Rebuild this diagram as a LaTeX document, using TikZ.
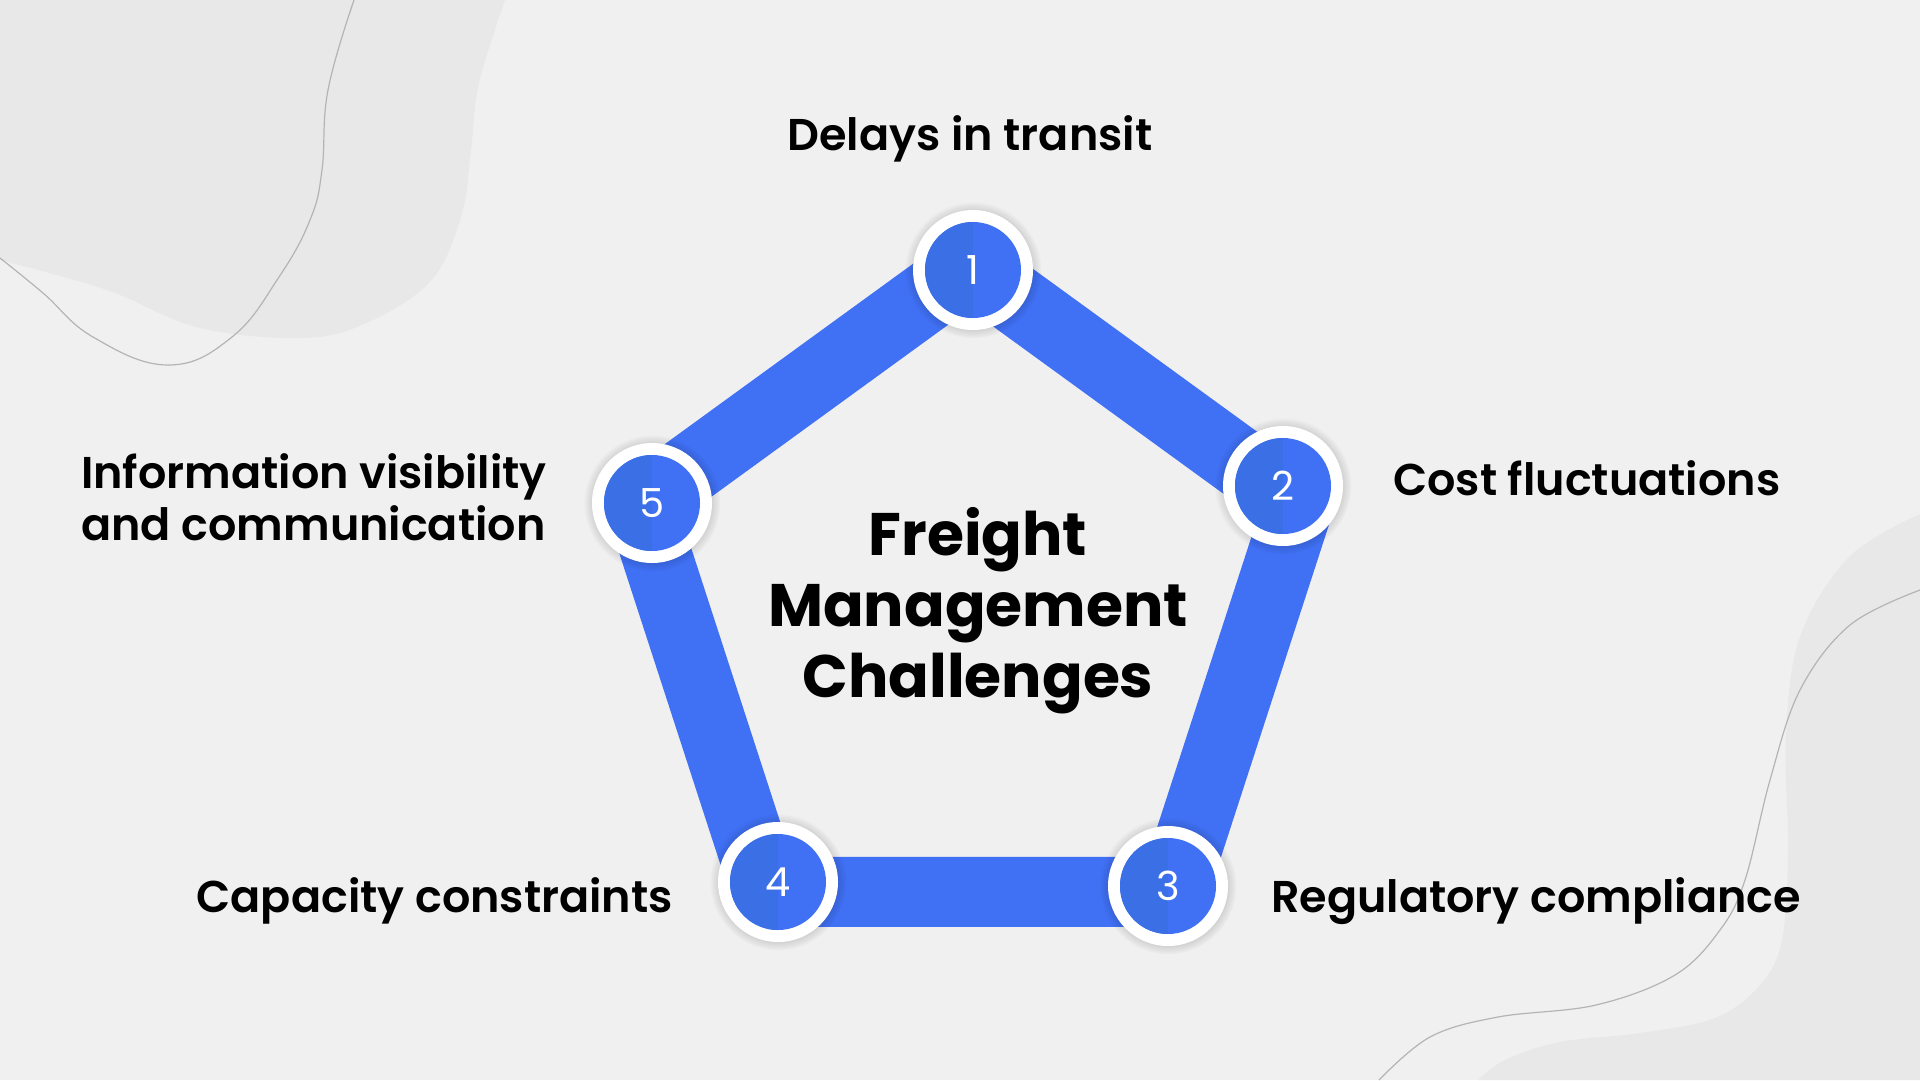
\documentclass[tikz,border=0pt]{standalone}
\usepackage{fontspec}
\setmainfont{Poppins}
\newfontfamily\labelfont{Poppins SemiBold}
\newfontfamily\titlefont{Poppins Bold}
\usetikzlibrary{shapes.geometric, shadows, fadings, backgrounds, positioning}
\definecolor{canvas}{HTML}{F0F0F0}
\definecolor{blobgray}{HTML}{E8E8E8}
\definecolor{wavegray}{HTML}{B4B4B4}
\definecolor{primary}{HTML}{4070F4}
\definecolor{primarydark}{HTML}{3A6FE6}
\tikzset{
  blob/.style={fill=blobgray},
  wave/.style={draw=wavegray, line width=1.2pt},
  band/.style={regular polygon, regular polygon sides=5, draw=primary,
               line width=70pt, line join=round, minimum size=692pt,
               inner sep=0pt},
  ring/.style={circle, fill=white, minimum size=120pt, inner sep=0pt,
               general shadow={shadow scale=1.14, fill=black, opacity=0.14,
                               path fading=circle with fuzzy edge 15 percent}},
  badge/.style={circle, fill=primary, minimum size=96pt, inner sep=0pt,
                text=white, font=\fontsize{40}{40}\selectfont,
                path picture={\fill[primarydark]
                  (path picture bounding box.north west) rectangle
                  (path picture bounding box.south);}},
  challenge/.style={font=\labelfont\fontsize{44.5}{52}\selectfont,
                    text=black, inner sep=0pt},
  hub/.style={font=\titlefont\fontsize{60}{71}\selectfont,
              align=center, inner sep=0pt},
}

\begin{document}
\begin{tikzpicture}[x=1pt, y=-1pt]

  \useasboundingbox (0,0) rectangle (1920,1080);

  %% ── CANVAS (background layer) ────────────────────────────────────────────
  \begin{scope}[on background layer]
    \fill[canvas] (0,0) rectangle (1920,1080);

    %% top-left blob and wave
    \fill[blob] (0,0) -- plot[smooth, tension=0.6] coordinates
      {(505,0) (479,83) (471,150) (461,217) (429,283) (357,327) (293,338)
       (196,327) (107,290) (0,260)} -- cycle;
    \draw[wave] plot[smooth, tension=0.7] coordinates
      {(354,0) (328,90) (322,170) (310,220) (279,277) (232,337) (168,365)
       (93,337) (43,293) (0,258)};

    %% bottom-right blob and wave
    \fill[blob] (1920,1080) -- plot[smooth, tension=0.6] coordinates
      {(1920,514) (1849,557) (1800,637) (1786,735) (1788,850) (1782,940)
       (1760,985) (1715,1018) (1640,1033) (1560,1042) (1505,1060) (1478,1080)} -- cycle;
    \draw[wave] plot[smooth, tension=0.6] coordinates
      {(1920,590) (1850,625) (1800,690) (1770,780) (1745,880) (1720,930)
       (1675,975) (1596,1005) (1498,1017) (1430,1037) (1379,1080)};

    %% blue pentagon band
    \node[band] (frame) at (969.5,612) {};
  \end{scope}

  %% ── PENTAGON OF CHALLENGES ───────────────────────────────────────────────
  \node[ring] (c1) at (973,270) {};
  \node[ring] (c2) at (1283,486) {};
  \node[ring] (c3) at (1168,886) {};
  \node[ring] (c4) at (778,882) {};
  \node[ring] (c5) at (652,503) {};

  \foreach \i in {1,...,5}{
    \node[badge] (d\i) at (c\i) {\i};
  }

  %% ── LABELS ───────────────────────────────────────────────────────────────
  \node[hub] (title) at (978,611) {Freight\\Management\\Challenges};

  \node[challenge, anchor=base]      (l1) at (970,150)  {Delays in transit};
  \node[challenge, anchor=base west] (l2) at (1393,495) {Cost fluctuations};
  \node[challenge, anchor=base west] (l3) at (1271,912) {Regulatory compliance};
  \node[challenge, anchor=base east] (l4) at (673,912)  {Capacity constraints};
  \node[challenge, anchor=west, align=left] (l5) at (81,497)
    {Information visibility\\and communication};

\end{tikzpicture}
\end{document}
